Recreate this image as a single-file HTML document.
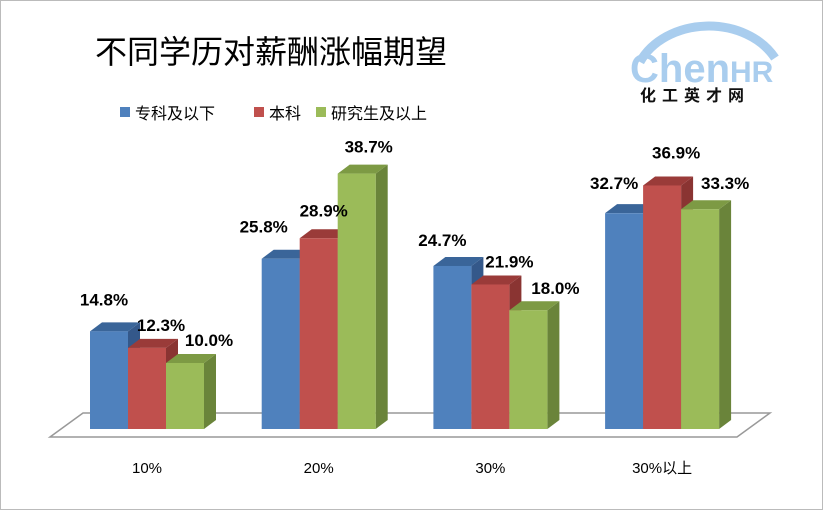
<!DOCTYPE html>
<html><head><meta charset="utf-8"><style>
body{margin:0;background:#fff}
svg{display:block}
text{font-family:"Liberation Sans","Noto Sans CJK SC",sans-serif}
</style></head><body>
<svg id="c" width="823" height="510" viewBox="0 0 823 510">
<rect x="0.5" y="0.5" width="822" height="509" fill="#fff" stroke="#bbb"/>
<text x="95" y="63" font-size="32" fill="#000">不同学历对薪酬涨幅期望</text>
<g>
<path d="M640 62 A75 60 0 0 1 775 58" fill="none" stroke="#a9cdee" stroke-width="9"/>
<text x="630" y="82" font-size="40" font-weight="bold" fill="#a9cdee">Chen<tspan font-size="30">HR</tspan></text>
<text x="640" y="101" font-size="16" font-weight="bold" fill="#111" letter-spacing="6">化工英才网</text>
</g>
<g id="legend"></g>
<polygon points="50,437 83,413 770,413 737,437" fill="#fff" stroke="#999" stroke-width="1.5"/>
<g id="bars"></g>
</svg>
<script>
const categories=["10%","20%","30%","30%以上"];
const seriesNames=["专科及以下","本科","研究生及以上"];
const s1=[14.8,25.8,24.7,32.7];
const s2=[12.3,28.9,21.9,36.9];
const s3=[10.0,38.7,18.0,33.3];
const series=[s1,s2,s3];
const labelDx=[[-5,-17,-10,-10],[14,5,19,14],[24,12,27,25]];
const labelDy=[[-26,-26,-20,-24],[-17,-22,-17,-27],[-17,-21,-16,-20]];
const front=["#4f81bd","#c0504d","#9bbb59"],top_=["#3a6599","#9a3b39","#7d9a44"],side=["#34588a","#8a3432","#6a843a"];
const NS="http://www.w3.org/2000/svg";
const svg=document.getElementById('bars'),leg=document.getElementById('legend');
const base=429,k=6.6,bw=38,dx=12,dy=9;
function y(v){return base-v*k;}
function gx(i){return 90+i*171.7;}
function mk(t,a,p){const e=document.createElementNS(NS,t);for(const q in a)e.setAttribute(q,a[q]);p.appendChild(e);return e;}
categories.forEach((c,i)=>{
 series.forEach((s,j)=>{
  const x=gx(i)+j*bw,yt=y(s[i]);
  const g=mk('g',{},svg);
  
  
  mk('polygon',{points:`${x+bw},${yt} ${x+bw+dx},${yt-dy} ${x+bw+dx},${base-dy} ${x+bw},${base}`,fill:side[j]},g);
  mk('polygon',{points:`${x},${yt} ${x+dx},${yt-dy} ${x+bw+dx},${yt-dy} ${x+bw},${yt}`,fill:top_[j]},g);
  mk('rect',{x:x,y:yt,width:bw,height:base-yt,fill:front[j]},g);
 });
 series.forEach((s,j)=>{
  const x=gx(i)+j*bw,yt=y(s[i]);
  const t=mk('text',{x:x+bw/2+labelDx[j][i],y:yt+labelDy[j][i],'text-anchor':'middle','font-size':'17','font-weight':'bold',fill:'#000'},svg);
  
  
  t.textContent=s[i].toFixed(1)+'%';
 });
 const t=mk('text',{x:gx(i)+57,y:473,'text-anchor':'middle','font-size':'15',fill:'#000'},svg);
 
 
 t.textContent=c;
});
const lx=[120,254,316];
seriesNames.forEach((n,j)=>{
 const r=mk('rect',{x:lx[j],y:107,width:10,height:10,fill:front[j]},leg);
 
 
 const t=mk('text',{x:lx[j]+15,y:119,'font-size':'16',fill:'#000'},leg);
 
 
 t.textContent=n;
});
</script>
</body></html>
